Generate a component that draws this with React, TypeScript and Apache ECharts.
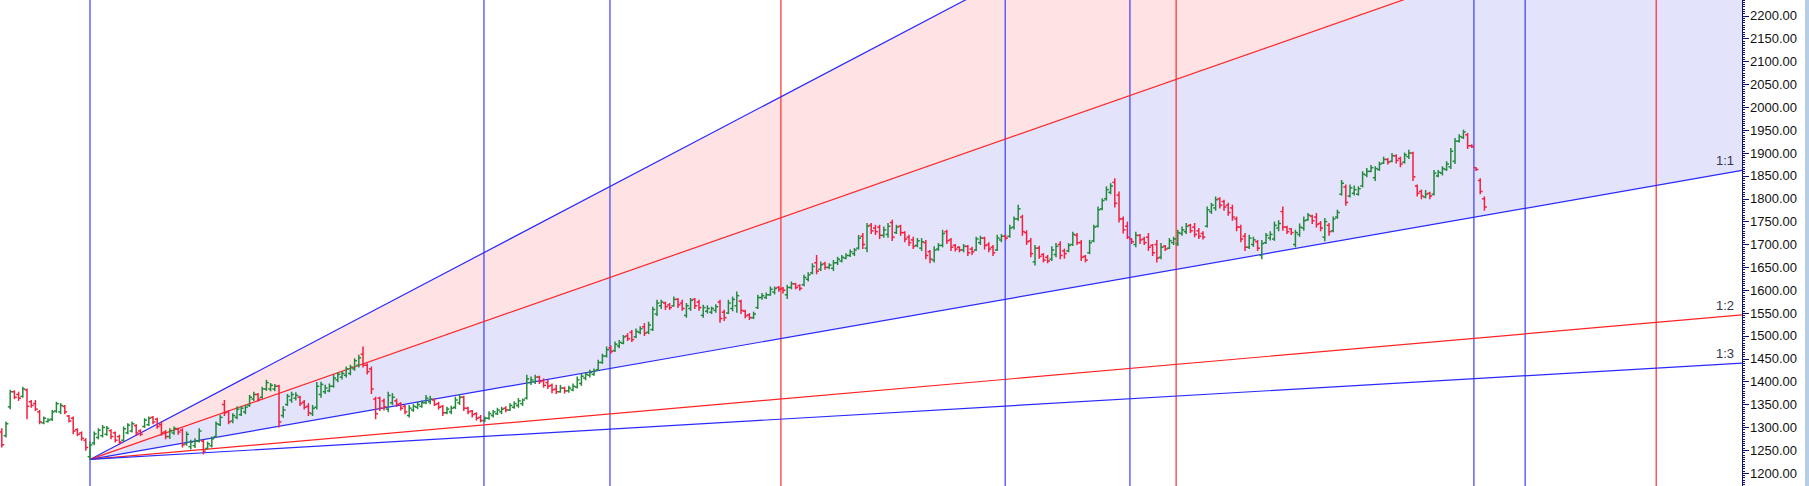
import React, { useEffect, useRef } from "react";
import * as echarts from "echarts";

const WIDTH = 1809;
const HEIGHT = 486;
// chart canvas is taller than the page and shifted up so that the 50-step axis spans the view
const CHART_TOP = -7;
const CHART_H = 503;

// OHLC bars: [open, high, low, close]
const barsA: number[][] = [
  [1290, 1297, 1257, 1262], [1282, 1312, 1279, 1308], [1345, 1381, 1341, 1378], [1378, 1380, 1363, 1366],
  [1372, 1377, 1359, 1364], [1368, 1388, 1366, 1384], [1382, 1384, 1319, 1346], [1356, 1359, 1344, 1348],
  [1352, 1359, 1337, 1340], [1334, 1337, 1308, 1312], [1310, 1323, 1308, 1320], [1313, 1319, 1312, 1316],
  [1318, 1337, 1315, 1334], [1336, 1355, 1333, 1352], [1334, 1352, 1330, 1348], [1346, 1348, 1330, 1334],
  [1325, 1326, 1312, 1314], [1320, 1323, 1286, 1292], [1295, 1297, 1282, 1285], [1288, 1290, 1272, 1276],
  [1272, 1275, 1250, 1256], [1236, 1268, 1230, 1262],
];
const barsB: number[][] = [
  [1266, 1290, 1262, 1286], [1278, 1297, 1275, 1294], [1282, 1304, 1279, 1300], [1285, 1302, 1283, 1298],
  [1293, 1295, 1275, 1280], [1288, 1290, 1268, 1272], [1280, 1283, 1264, 1268], [1272, 1301, 1270, 1297],
  [1288, 1308, 1286, 1305], [1292, 1312, 1290, 1308], [1304, 1306, 1283, 1288], [1292, 1295, 1282, 1285],
  [1302, 1319, 1300, 1316], [1306, 1323, 1304, 1320], [1322, 1324, 1308, 1312], [1318, 1320, 1298, 1302],
  [1306, 1312, 1283, 1288], [1290, 1293, 1275, 1280], [1280, 1297, 1276, 1293], [1288, 1301, 1285, 1298],
  [1296, 1298, 1285, 1290], [1294, 1297, 1257, 1262], [1264, 1290, 1261, 1285], [1258, 1272, 1253, 1268],
  [1260, 1275, 1256, 1270], [1270, 1297, 1268, 1292], [1270, 1272, 1242, 1248], [1254, 1268, 1253, 1264],
  [1260, 1279, 1257, 1275], [1280, 1312, 1278, 1308], [1306, 1326, 1304, 1322], [1350, 1359, 1326, 1332],
  [1334, 1337, 1308, 1312], [1314, 1330, 1310, 1326], [1322, 1345, 1319, 1340], [1328, 1345, 1326, 1342],
  [1334, 1348, 1330, 1344], [1348, 1370, 1346, 1366], [1362, 1377, 1359, 1372], [1372, 1374, 1358, 1362],
  [1366, 1388, 1364, 1384], [1384, 1403, 1381, 1398], [1384, 1396, 1380, 1392], [1384, 1394, 1380, 1390],
  [1390, 1392, 1301, 1312], [1326, 1345, 1322, 1338], [1350, 1372, 1348, 1368], [1360, 1377, 1355, 1372],
  [1364, 1376, 1360, 1370], [1366, 1368, 1348, 1352], [1355, 1359, 1340, 1344], [1346, 1352, 1326, 1332],
  [1330, 1348, 1326, 1342], [1344, 1398, 1340, 1390], [1372, 1399, 1366, 1394], [1378, 1392, 1374, 1386],
  [1380, 1395, 1378, 1390], [1390, 1414, 1388, 1408], [1404, 1420, 1400, 1416], [1410, 1421, 1406, 1418],
  [1414, 1432, 1410, 1428], [1418, 1436, 1415, 1432], [1428, 1450, 1425, 1446], [1436, 1458, 1432, 1452],
  [1460, 1476, 1432, 1436], [1436, 1439, 1417, 1422],
];
const barsC: number[][] = [
  [1428, 1432, 1374, 1384], [1362, 1366, 1319, 1330], [1364, 1366, 1337, 1342], [1358, 1362, 1338, 1345],
  [1340, 1377, 1334, 1370], [1354, 1374, 1350, 1366], [1358, 1362, 1346, 1350], [1352, 1354, 1338, 1342],
  [1346, 1348, 1330, 1334], [1326, 1348, 1323, 1342], [1338, 1350, 1335, 1346], [1344, 1355, 1341, 1350],
  [1346, 1358, 1344, 1354], [1354, 1370, 1352, 1364], [1356, 1368, 1352, 1362], [1360, 1362, 1348, 1350],
  [1352, 1355, 1340, 1344], [1346, 1348, 1326, 1332], [1332, 1344, 1330, 1340], [1334, 1346, 1330, 1342],
  [1344, 1366, 1341, 1360], [1354, 1372, 1350, 1366], [1366, 1368, 1337, 1342], [1342, 1344, 1330, 1334],
  [1336, 1337, 1323, 1328], [1330, 1332, 1316, 1320], [1322, 1326, 1312, 1315], [1315, 1323, 1313, 1320],
  [1320, 1334, 1318, 1330], [1326, 1337, 1323, 1334], [1330, 1342, 1328, 1338], [1334, 1344, 1330, 1340],
  [1342, 1345, 1334, 1338], [1338, 1352, 1337, 1348], [1344, 1356, 1342, 1352], [1348, 1363, 1344, 1358],
  [1352, 1362, 1348, 1360], [1364, 1414, 1362, 1406], [1398, 1410, 1394, 1404], [1400, 1414, 1396, 1410],
  [1410, 1412, 1396, 1400], [1402, 1406, 1388, 1392], [1398, 1403, 1385, 1390], [1392, 1395, 1376, 1382],
  [1384, 1392, 1374, 1378], [1378, 1392, 1377, 1386], [1386, 1388, 1375, 1380], [1380, 1390, 1377, 1386],
  [1382, 1395, 1380, 1390], [1388, 1410, 1386, 1404], [1396, 1417, 1392, 1412], [1408, 1420, 1404, 1416],
  [1414, 1425, 1410, 1420], [1416, 1428, 1414, 1424], [1426, 1447, 1425, 1442], [1442, 1460, 1440, 1456],
  [1456, 1476, 1454, 1470], [1474, 1478, 1462, 1466], [1468, 1487, 1466, 1482], [1478, 1490, 1474, 1486],
  [1484, 1501, 1483, 1498], [1500, 1505, 1490, 1494], [1508, 1512, 1488, 1492], [1498, 1515, 1496, 1510],
  [1508, 1520, 1505, 1516], [1520, 1527, 1501, 1506], [1508, 1530, 1505, 1524],
];
const barsD: number[][] = [
  [1514, 1563, 1512, 1558], [1548, 1578, 1545, 1572], [1566, 1578, 1560, 1574], [1572, 1574, 1558, 1564],
  [1568, 1571, 1558, 1562], [1566, 1585, 1565, 1580], [1580, 1582, 1562, 1568], [1572, 1578, 1556, 1560],
  [1545, 1571, 1541, 1566], [1560, 1582, 1556, 1578], [1580, 1582, 1560, 1566], [1574, 1578, 1556, 1562],
  [1545, 1567, 1541, 1562], [1554, 1566, 1550, 1560], [1552, 1563, 1549, 1560], [1556, 1568, 1552, 1564],
  [1574, 1578, 1530, 1538], [1552, 1556, 1534, 1540], [1550, 1578, 1549, 1572], [1560, 1585, 1555, 1580],
  [1566, 1596, 1552, 1588], [1576, 1578, 1549, 1556], [1554, 1556, 1540, 1544], [1546, 1549, 1536, 1540],
  [1540, 1552, 1538, 1548], [1562, 1589, 1560, 1584], [1584, 1593, 1580, 1588], [1584, 1594, 1582, 1590],
  [1590, 1607, 1589, 1602], [1596, 1607, 1592, 1604], [1606, 1608, 1598, 1602], [1604, 1606, 1594, 1600],
  [1590, 1611, 1582, 1606], [1606, 1618, 1603, 1614], [1614, 1615, 1603, 1606], [1610, 1612, 1600, 1604],
  [1612, 1633, 1610, 1628], [1624, 1638, 1620, 1634], [1638, 1658, 1636, 1652], [1660, 1676, 1636, 1642],
  [1646, 1662, 1643, 1656], [1658, 1661, 1646, 1650], [1650, 1658, 1647, 1655], [1648, 1665, 1643, 1660],
  [1660, 1672, 1656, 1668], [1664, 1676, 1662, 1672], [1670, 1680, 1669, 1676], [1676, 1688, 1674, 1684],
  [1680, 1691, 1676, 1688], [1692, 1720, 1690, 1714], [1718, 1724, 1691, 1700], [1692, 1746, 1684, 1740],
  [1742, 1746, 1724, 1730], [1736, 1742, 1722, 1728], [1738, 1742, 1713, 1720], [1720, 1738, 1716, 1732],
  [1722, 1746, 1716, 1740], [1748, 1753, 1709, 1716], [1726, 1742, 1724, 1738], [1740, 1742, 1720, 1726],
  [1726, 1728, 1706, 1712], [1716, 1720, 1698, 1704], [1710, 1716, 1691, 1696], [1698, 1713, 1695, 1708],
  [1692, 1713, 1687, 1706], [1704, 1709, 1669, 1676],
];
const barsE: number[][] = [
  [1684, 1687, 1660, 1668], [1666, 1695, 1662, 1688], [1690, 1702, 1687, 1698], [1698, 1731, 1695, 1724],
  [1728, 1731, 1702, 1708], [1710, 1713, 1687, 1694], [1698, 1700, 1686, 1690], [1694, 1695, 1684, 1688],
  [1688, 1700, 1684, 1696], [1696, 1698, 1676, 1682], [1690, 1694, 1678, 1684], [1688, 1716, 1687, 1712],
  [1704, 1718, 1700, 1714], [1714, 1716, 1690, 1698], [1700, 1704, 1684, 1690], [1694, 1698, 1676, 1682],
  [1688, 1720, 1687, 1714], [1710, 1722, 1706, 1718], [1718, 1720, 1710, 1714], [1718, 1742, 1716, 1736],
  [1738, 1760, 1734, 1756], [1756, 1786, 1753, 1778], [1760, 1764, 1720, 1728], [1726, 1730, 1700, 1706],
  [1708, 1713, 1673, 1680], [1662, 1698, 1655, 1692], [1692, 1696, 1670, 1674], [1678, 1680, 1662, 1666],
  [1672, 1676, 1660, 1664], [1668, 1695, 1665, 1688], [1678, 1702, 1673, 1696], [1700, 1706, 1669, 1676],
  [1686, 1690, 1670, 1680], [1686, 1702, 1684, 1698], [1700, 1727, 1698, 1722], [1720, 1724, 1700, 1704],
  [1704, 1709, 1665, 1672], [1674, 1676, 1662, 1666], [1682, 1709, 1680, 1704], [1708, 1742, 1706, 1738],
  [1740, 1782, 1738, 1776], [1778, 1800, 1776, 1796], [1800, 1826, 1797, 1820], [1814, 1833, 1811, 1828],
  [1836, 1844, 1782, 1790], [1808, 1815, 1749, 1756], [1756, 1760, 1725, 1732], [1740, 1749, 1713, 1716],
  [1712, 1713, 1702, 1706], [1700, 1727, 1695, 1720], [1720, 1722, 1702, 1710], [1712, 1716, 1700, 1704],
  [1716, 1724, 1687, 1694], [1698, 1700, 1676, 1682], [1700, 1709, 1662, 1670], [1672, 1702, 1669, 1694],
  [1696, 1698, 1687, 1690], [1692, 1713, 1691, 1708], [1704, 1716, 1700, 1712], [1702, 1731, 1698, 1726],
  [1724, 1738, 1720, 1732], [1728, 1746, 1724, 1740], [1742, 1744, 1726, 1730], [1738, 1746, 1717, 1722],
  [1730, 1735, 1713, 1718], [1724, 1728, 1712, 1716], [1740, 1782, 1738, 1776], [1772, 1790, 1768, 1786],
  [1780, 1804, 1775, 1798], [1800, 1802, 1780, 1786],
];
const barsF: number[][] = [
  [1794, 1797, 1775, 1782], [1786, 1790, 1764, 1770], [1780, 1786, 1753, 1760], [1756, 1760, 1730, 1738],
  [1738, 1742, 1706, 1712], [1718, 1724, 1687, 1694], [1694, 1720, 1691, 1714], [1700, 1716, 1696, 1710],
  [1706, 1709, 1687, 1692], [1676, 1709, 1669, 1702], [1704, 1724, 1702, 1720], [1714, 1728, 1710, 1722],
  [1712, 1749, 1709, 1742], [1736, 1752, 1730, 1746], [1772, 1782, 1731, 1738], [1738, 1740, 1724, 1728],
  [1734, 1735, 1722, 1726], [1700, 1731, 1695, 1726], [1722, 1745, 1718, 1738], [1736, 1760, 1731, 1752],
  [1754, 1768, 1753, 1764], [1762, 1764, 1746, 1752], [1760, 1768, 1738, 1744], [1746, 1750, 1730, 1736],
  [1716, 1757, 1708, 1750], [1742, 1746, 1720, 1728], [1730, 1760, 1728, 1756], [1760, 1775, 1757, 1770],
  [1810, 1840, 1808, 1834], [1826, 1830, 1786, 1792], [1806, 1830, 1804, 1824], [1812, 1828, 1808, 1820],
  [1810, 1826, 1808, 1822], [1828, 1859, 1826, 1854], [1852, 1866, 1848, 1860], [1860, 1873, 1859, 1868],
  [1846, 1870, 1840, 1866], [1864, 1880, 1862, 1876], [1878, 1891, 1877, 1886], [1886, 1888, 1876, 1880],
  [1882, 1899, 1881, 1894], [1894, 1896, 1878, 1884], [1888, 1891, 1870, 1876], [1880, 1900, 1878, 1896],
  [1892, 1906, 1888, 1900], [1900, 1902, 1840, 1848], [1828, 1830, 1806, 1812], [1816, 1819, 1800, 1806],
  [1804, 1818, 1802, 1810], [1812, 1814, 1800, 1806], [1810, 1862, 1808, 1856], [1850, 1862, 1848, 1858],
  [1856, 1870, 1852, 1866], [1864, 1881, 1862, 1876], [1870, 1910, 1866, 1904], [1882, 1932, 1877, 1926],
  [1926, 1940, 1924, 1936], [1934, 1950, 1932, 1946], [1940, 1943, 1910, 1916], [1916, 1918, 1912, 1914],
  [1868, 1868, 1862, 1864], [1840, 1844, 1811, 1816], [1800, 1804, 1775, 1782],
];

const bars: number[][] = [...barsA, ...barsB, ...barsC, ...barsD, ...barsE, ...barsF];

// Gann fan
const fanOrigin: [number, number] = [21, 1230];
const fanUnit = 1.607; // price per bar on the 1:1 line
const fanRatios = [3, 2, 1, 1 / 2, 1 / 3];
const fanNames = ["3:1", "2:1", "1:1", "1:2", "1:3"];
const fanLabelled = ["1:1", "1:2", "1:3"];

// time cycle verticals (bar index)
const cycleBlue = [21, 114.8, 144.8, 238.9, 268.6, 350.5, 362.7];
const cycleRed = [185.5, 279.6, 393.9];

// y axis
const yMin = 1150;
const yMax = 2250;
const yStep = 50;

const X_MIN = -0.43;
const X_MAX = 414.33;

const GREEN = "#238a3c";
const RED = "#f3203e";
const BLUE = "#2a2aff";
const RED_LINE = "#ff2424";
const FAN_COLORS = [BLUE, RED_LINE, BLUE, RED_LINE, BLUE];
const FILL_PINK = "#ffe2e4";
const FILL_LAV = "#e3e3fc";

export default function App() {
  const ref = useRef<HTMLDivElement>(null);

  useEffect(() => {
    if (!ref.current) return;
    const chart = echarts.init(ref.current, undefined, {
      renderer: "svg",
      width: WIDTH,
      height: CHART_H,
    });

    const fanY = (r: number, x: number) => fanOrigin[1] + r * fanUnit * (x - fanOrigin[0]);

    const fills = [
      { up: fanRatios[0], low: fanRatios[1], color: FILL_PINK },
      { up: fanRatios[1], low: fanRatios[2], color: FILL_LAV },
    ];

    const series: any[] = [];

    series.push({
      type: "custom",
      name: "fills",
      clip: true,
      silent: true,
      z: 1,
      data: fills.map((f, k) => [k, f.up, f.low]),
      renderItem: (params: any, api: any) => {
        const k = api.value(0);
        const f = fills[k];
        const p0 = api.coord([fanOrigin[0], fanOrigin[1]]);
        const p1 = api.coord([X_MAX, fanY(f.up, X_MAX)]);
        const p2 = api.coord([X_MAX, fanY(f.low, X_MAX)]);
        return {
          type: "polygon",
          shape: { points: [p0, p1, p2] },
          style: { fill: f.color, stroke: "none" },
        };
      },
      encode: { x: 0, y: 1 },
    });

    cycleBlue.forEach((v) =>
      series.push({
        type: "line",
        silent: true,
        z: 2,
        symbol: "none",
        data: [[v, yMin], [v, yMax]],
        lineStyle: { color: "#3b3bff", width: 1.2 },
      })
    );
    cycleRed.forEach((v) =>
      series.push({
        type: "line",
        silent: true,
        z: 2,
        symbol: "none",
        data: [[v, yMin], [v, yMax]],
        lineStyle: { color: "#ff2a2a", width: 1.2 },
      })
    );

    fanRatios.forEach((r, k) =>
      series.push({
        type: "line",
        name: fanNames[k],
        silent: true,
        z: 3,
        symbol: "none",
        clip: true,
        data: [fanOrigin, [X_MAX, fanY(r, X_MAX)]],
        lineStyle: { color: FAN_COLORS[k], width: 1.2 },
      })
    );

    series.push({
      type: "custom",
      name: "ohlc",
      z: 4,
      clip: true,
      data: bars.map((b, i) => [i, b[0], b[1], b[2], b[3]]),
      encode: { x: 0, y: [1, 2, 3, 4] },
      renderItem: (params: any, api: any) => {
        const i = api.value(0);
        const o = api.value(1);
        const h = api.value(2);
        const l = api.value(3);
        const c = api.value(4);
        const pH = api.coord([i, h]);
        const pL = api.coord([i, l]);
        const pO = api.coord([i, o]);
        const pC = api.coord([i, c]);
        const color = c >= o ? GREEN : RED;
        const x = pH[0];
        const st = { stroke: color, lineWidth: 1.5 };
        return {
          type: "group",
          children: [
            { type: "line", shape: { x1: x, y1: pH[1] - 0.5, x2: x, y2: pL[1] + 0.5 }, style: st },
            { type: "line", shape: { x1: x - 2.4, y1: pO[1], x2: x, y2: pO[1] }, style: st },
            { type: "line", shape: { x1: x, y1: pC[1], x2: x + 2.4, y2: pC[1] }, style: st },
          ],
        };
      },
    });

    chart.setOption({
      animation: false,
      backgroundColor: "#ffffff",
      grid: { left: 0, right: 67, top: 0, bottom: 0, containLabel: false, outerBoundsMode: "none" },
      xAxis: {
        type: "value",
        min: X_MIN,
        max: X_MAX,
        show: false,
        splitLine: { show: false },
      },
      yAxis: {
        type: "value",
        position: "right",
        min: yMin,
        max: yMax,
        interval: yStep,
        splitLine: { show: false },
        axisLine: { show: true, onZero: false, lineStyle: { color: "#10107a", width: 1 } },
        axisTick: { show: true, length: 7, lineStyle: { color: "#10107a" } },
        minorTick: { show: true, splitNumber: 10, length: 3, lineStyle: { color: "#10107a" } },
        axisLabel: {
          show: true,
          margin: 8,
          color: "#111111",
          fontSize: 13,
          showMinLabel: false,
          showMaxLabel: false,
          fontFamily: "Liberation Sans, Arial, sans-serif",
          formatter: (v: number) => v.toFixed(2),
        },
      },
      series,
    });

    const labels: any[] = [];
    fanRatios.forEach((r, k) => {
      if (!fanLabelled.includes(fanNames[k])) return;
      const p = chart.convertToPixel({ gridIndex: 0 }, [X_MAX, fanY(r, X_MAX)]) as number[];
      labels.push({
        type: "text",
        z: 10,
        x: p[0] - 8,
        y: p[1] - 3,
        style: {
          text: fanNames[k],
          align: "right",
          verticalAlign: "bottom",
          fill: "#34344e",
          font: "13px 'Liberation Sans', Arial, sans-serif",
        },
      });
    });
    labels.push({
      type: "rect",
      z: 10,
      shape: { x: 1805, y: 0, width: 4, height: CHART_H },
      style: { fill: "#b7cde6" },
    });
    chart.setOption({ graphic: { elements: labels } });

    return () => chart.dispose();
  }, []);

  return (
    <div
      style={{
        position: "fixed",
        left: 0,
        top: 0,
        width: WIDTH,
        height: HEIGHT,
        overflow: "hidden",
        background: "#fff",
      }}
    >
      <div
        ref={ref}
        style={{ position: "absolute", left: 0, top: CHART_TOP, width: WIDTH, height: CHART_H }}
      />
    </div>
  );
}
